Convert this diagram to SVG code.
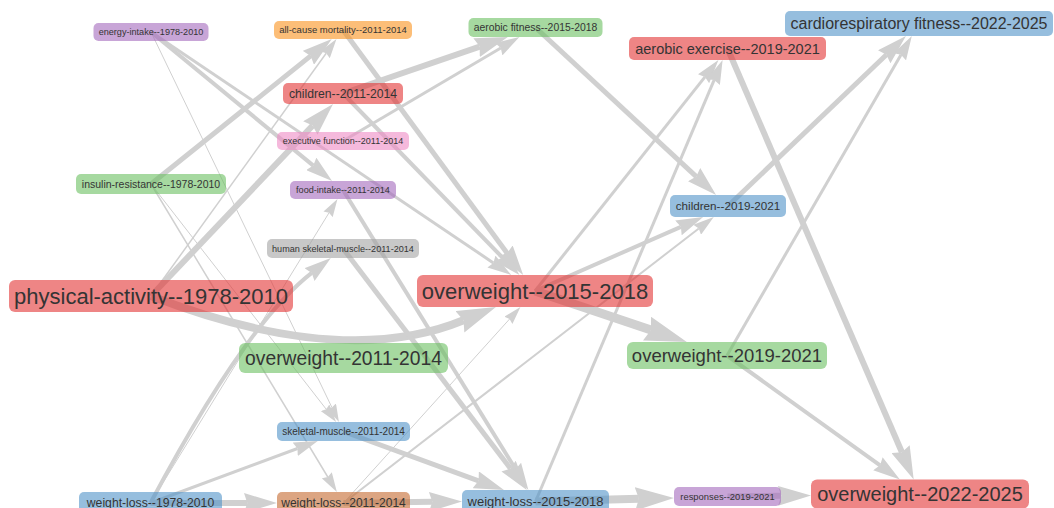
<svg xmlns="http://www.w3.org/2000/svg" width="1054" height="508" viewBox="0 0 1054 508">
<style>
.e{fill:none;stroke:#d0d0d0;stroke-linecap:butt}
.w1{stroke-width:1;marker-end:url(#a1)}
.w15{stroke-width:1.5;marker-end:url(#a15)}
.w2{stroke-width:2;marker-end:url(#a2)}
.w3{stroke-width:3;marker-end:url(#a3)}
.w4{stroke-width:4;marker-end:url(#a4)}
.w5{stroke-width:5;marker-end:url(#a5)}
.w6{stroke-width:6;marker-end:url(#a6)}
.w8{stroke-width:8;marker-end:url(#a8)}
.w9{stroke-width:9;marker-end:url(#a9)}
.n rect{fill-opacity:0.6}
.n text{font-family:"Liberation Sans",Arial,sans-serif;fill:#343434;text-anchor:middle}
.red{fill:#e33434}.green{fill:#6bc061}.blue{fill:#5093c8}.purple{fill:#a369bc}
.orange{fill:#fa931e}.pink{fill:#ee8ac5}.gray{fill:#a3a3a3}.brown{fill:#c5692f}
</style>
<defs>
<marker id="a1" markerUnits="userSpaceOnUse" viewBox="0 -5.4 18 10.8" markerWidth="18" markerHeight="10.8" refX="1.8" refY="0" orient="auto"><path d="M0,-5.4L18,0L0,5.4L1.8,0Z" fill="#d0d0d0"/></marker>
<marker id="a15" markerUnits="userSpaceOnUse" viewBox="0 -5.85 19.5 11.7" markerWidth="19.5" markerHeight="11.7" refX="1.95" refY="0" orient="auto"><path d="M0,-5.85L19.5,0L0,5.85L1.95,0Z" fill="#d0d0d0"/></marker>
<marker id="a2" markerUnits="userSpaceOnUse" viewBox="0 -6.3 21 12.6" markerWidth="21" markerHeight="12.6" refX="2.1" refY="0" orient="auto"><path d="M0,-6.3L21,0L0,6.3L2.1,0Z" fill="#d0d0d0"/></marker>
<marker id="a3" markerUnits="userSpaceOnUse" viewBox="0 -7.2 24 14.4" markerWidth="24" markerHeight="14.4" refX="2.4" refY="0" orient="auto"><path d="M0,-7.2L24,0L0,7.2L2.4,0Z" fill="#d0d0d0"/></marker>
<marker id="a4" markerUnits="userSpaceOnUse" viewBox="0 -8.1 27 16.2" markerWidth="27" markerHeight="16.2" refX="2.7" refY="0" orient="auto"><path d="M0,-8.1L27,0L0,8.1L2.7,0Z" fill="#d0d0d0"/></marker>
<marker id="a5" markerUnits="userSpaceOnUse" viewBox="0 -9 30 18" markerWidth="30" markerHeight="18" refX="3" refY="0" orient="auto"><path d="M0,-9L30,0L0,9L3,0Z" fill="#d0d0d0"/></marker>
<marker id="a6" markerUnits="userSpaceOnUse" viewBox="0 -9.9 33 19.8" markerWidth="33" markerHeight="19.8" refX="3.3" refY="0" orient="auto"><path d="M0,-9.9L33,0L0,9.9L3.3,0Z" fill="#d0d0d0"/></marker>
<marker id="a8" markerUnits="userSpaceOnUse" viewBox="0 -11.7 39 23.4" markerWidth="39" markerHeight="23.4" refX="3.9" refY="0" orient="auto"><path d="M0,-11.7L39,0L0,11.7L3.9,0Z" fill="#d0d0d0"/></marker>
<marker id="a9" markerUnits="userSpaceOnUse" viewBox="0 -12.6 42 25.2" markerWidth="42" markerHeight="25.2" refX="4.2" refY="0" orient="auto"><path d="M0,-12.6L42,0L0,12.6L4.2,0Z" fill="#d0d0d0"/></marker>
</defs>
<g id="edges">
<path class="e w4" d="M151,32L313.3,165.6"/>
<path class="e w3" d="M151,32L493.4,262.9"/>
<path class="e w1" d="M151,32L331.9,407.4"/>
<path class="e w5" d="M151,184L310.7,55.9"/>
<path class="e w1" d="M151,184L326.2,409.2"/>
<path class="e w15" d="M151,184L327.8,477"/>
<path class="e w15" d="M151,296L326.2,53.2"/>
<path class="e w6" d="M151,296L312.6,125.6"/>
<path class="e w8" d="M151,296Q343,370 463.5,320.3"/>
<path class="e w6" d="M343,93.5L479.7,46.6"/>
<path class="e w3" d="M343,141L500.8,48"/>
<path class="e w5" d="M343,30L507.2,253.2"/>
<path class="e w4" d="M343,93.5L502.5,257.6"/>
<path class="e w5" d="M535.5,27.5L696.3,176.6"/>
<path class="e w3" d="M535,291L705,76.9"/>
<path class="e w3" d="M535.5,501.5L714.2,79.9"/>
<path class="e w6" d="M727.5,48.5L901.9,452.2"/>
<path class="e w5" d="M728,206L886.4,54.7"/>
<path class="e w3" d="M727,355.5L901,54.7"/>
<path class="e w4" d="M727,355.5L880.1,465.3"/>
<path class="e w9" d="M535,291L651,330"/>
<path class="e w4" d="M535,291L680.9,226.8"/>
<path class="e w2" d="M343.5,503L698.8,228.5"/>
<path class="e w8" d="M535.5,501.5L638.9,498.8"/>
<path class="e w6" d="M727.5,496.5L781.3,495.8"/>
<path class="e w6" d="M343.5,503L432.3,501.8"/>
<path class="e w6" d="M150.5,503L247.3,503"/>
<path class="e w3" d="M150.5,503L297.5,448.5"/>
<path class="e w4" d="M150.5,503Q245,325 311.7,272.9"/>
<path class="e w1" d="M150.5,503L329,212.8"/>
<path class="e w1" d="M343.5,503L509.6,319"/>
<path class="e w5" d="M343.5,431.5L478.6,480.8"/>
<path class="e w5" d="M343,248.5L510.4,468.5"/>
<path class="e w4" d="M343,190L515.6,469.3"/>
</g>
<g id="n-energy-intake-1978-2010" class="n"><rect class="purple" x="93.5" y="23" width="115" height="18" rx="5"/><text x="151" y="35.2" font-size="9.1">energy-intake--1978-2010</text></g>
<g id="n-all-cause-mortality-2011-2014" class="n"><rect class="orange" x="274" y="21" width="138" height="18" rx="5"/><text x="343" y="33.3" font-size="9.5">all-cause mortality--2011-2014</text></g>
<g id="n-aerobic-fitness-2015-2018" class="n"><rect class="green" x="468.5" y="18" width="134" height="19" rx="5"/><text x="535.5" y="31.1" font-size="10.4">aerobic fitness--2015-2018</text></g>
<g id="n-aerobic-exercise-2019-2021" class="n"><rect class="red" x="629" y="37" width="197" height="23" rx="5"/><text x="727.5" y="53.6" font-size="14.5">aerobic exercise--2019-2021</text></g>
<g id="n-cardiorespiratory-fitness-2022-2025" class="n"><rect class="blue" x="785" y="11" width="268" height="25" rx="5"/><text x="919" y="29.1" font-size="16">cardiorespiratory fitness--2022-2025</text></g>
<g id="n-children-2011-2014" class="n"><rect class="red" x="283" y="83" width="120" height="21" rx="5"/><text x="343" y="97.8" font-size="12.2">children--2011-2014</text></g>
<g id="n-executive-function-2011-2014" class="n"><rect class="pink" x="277" y="132" width="132" height="18" rx="5"/><text x="343" y="144.2" font-size="9">executive function--2011-2014</text></g>
<g id="n-insulin-resistance-1978-2010" class="n"><rect class="green" x="76" y="174" width="150" height="20" rx="5"/><text x="151" y="187.7" font-size="10.5">insulin-resistance--1978-2010</text></g>
<g id="n-food-intake-2011-2014" class="n"><rect class="purple" x="290" y="181" width="106" height="18" rx="5"/><text x="343" y="193.2" font-size="9.1">food-intake--2011-2014</text></g>
<g id="n-children-2019-2021" class="n"><rect class="blue" x="670" y="195" width="116" height="22" rx="5"/><text x="728" y="210.1" font-size="11.7">children--2019-2021</text></g>
<g id="n-human-skeletal-muscle-2011-2014" class="n"><rect class="gray" x="267" y="239" width="152" height="19" rx="5"/><text x="343" y="251.7" font-size="9.1">human skeletal-muscle--2011-2014</text></g>
<g id="n-physical-activity-1978-2010" class="n"><rect class="red" x="9" y="280" width="284" height="32" rx="6"/><text x="151" y="303.7" font-size="22">physical-activity--1978-2010</text></g>
<g id="n-overweight-2015-2018" class="n"><rect class="red" x="417" y="275" width="236" height="32" rx="6"/><text x="535" y="298.7" font-size="22">overweight--2015-2018</text></g>
<g id="n-overweight-2011-2014" class="n"><rect class="green" x="239" y="343" width="209" height="30" rx="6"/><text x="343.5" y="364.8" font-size="19.3">overweight--2011-2014</text></g>
<g id="n-overweight-2019-2021" class="n"><rect class="green" x="627" y="342" width="200" height="27" rx="6"/><text x="727" y="362" font-size="18.5">overweight--2019-2021</text></g>
<g id="n-skeletal-muscle-2011-2014" class="n"><rect class="blue" x="277" y="422" width="133" height="19" rx="5"/><text x="343.5" y="435" font-size="10">skeletal-muscle--2011-2014</text></g>
<g id="n-weight-loss-1978-2010" class="n"><rect class="blue" x="79" y="492" width="143" height="22" rx="5"/><text x="150.5" y="507.3" font-size="12.2">weight-loss--1978-2010</text></g>
<g id="n-weight-loss-2011-2014" class="n"><rect class="brown" x="277" y="492" width="133" height="22" rx="5"/><text x="343.5" y="507.2" font-size="12">weight-loss--2011-2014</text></g>
<g id="n-weight-loss-2015-2018" class="n"><rect class="blue" x="462" y="490" width="147" height="23" rx="5"/><text x="535.5" y="506" font-size="13">weight-loss--2015-2018</text></g>
<g id="n-responses-2019-2021" class="n"><rect class="purple" x="674" y="487" width="107" height="19" rx="5"/><text x="727.5" y="499.8" font-size="9.4">responses--2019-2021</text></g>
<g id="n-overweight-2022-2025" class="n"><rect class="red" x="811" y="479.5" width="218" height="29" rx="6"/><text x="920" y="501" font-size="20">overweight--2022-2025</text></g>
</svg>
